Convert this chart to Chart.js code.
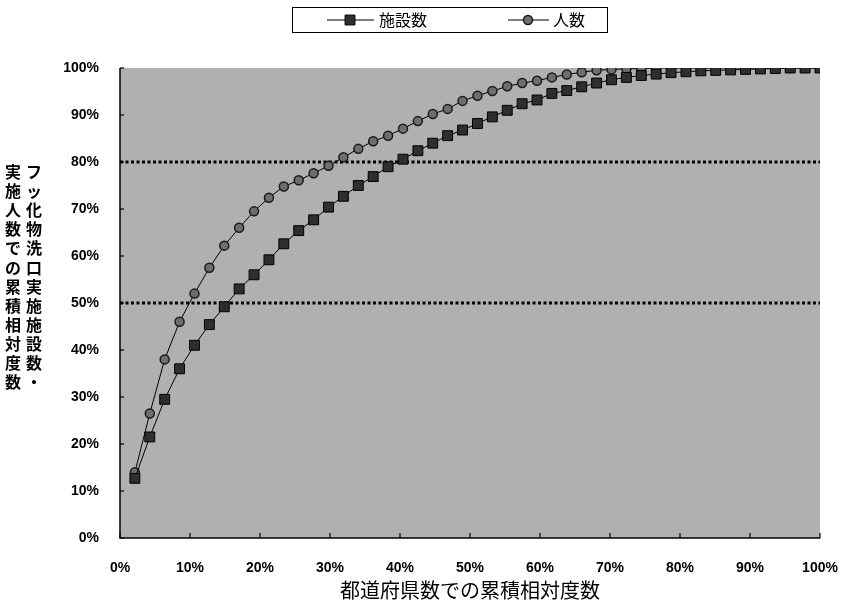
<!DOCTYPE html>
<html><head><meta charset="utf-8">
<script src="https://cdn.jsdelivr.net/npm/chart.js@4.4.0/dist/chart.umd.min.js"></script>
<style>html,body{margin:0;padding:0;background:#fff;}</style>
</head><body>
<canvas id="c" width="843" height="607"></canvas>
<script>
// ---- data ----
const prefectureCount = 47;
const prefIndex = [1,2,3,4,5,6,7,8,9,10,11,12,13,14,15,16,17,18,19,20,21,22,23,24,25,26,27,28,29,30,31,32,33,34,35,36,37,38,39,40,41,42,43,44,45,46,47];
const facilityPct = [12.7,21.5,29.5,36.0,41.0,45.4,49.2,53.0,56.0,59.2,62.6,65.4,67.7,70.4,72.7,75.0,76.9,79.0,80.6,82.4,84.0,85.6,86.8,88.2,89.6,91.0,92.4,93.2,94.6,95.2,96.0,96.8,97.5,98.0,98.4,98.7,99.0,99.2,99.4,99.5,99.6,99.7,99.8,99.9,100,100,100];
const peoplePct = [14.0,26.5,38.0,46.0,52.0,57.5,62.2,66.0,69.5,72.4,74.8,76.1,77.6,79.2,81.0,82.8,84.4,85.6,87.1,88.7,90.2,91.3,93.0,94.1,95.1,96.1,96.8,97.3,98.0,98.6,99.1,99.5,99.7,99.8,99.9,100,100,100,100,100,100,100,100,100,100,100,100];
const tickValues = [0,10,20,30,40,50,60,70,80,90,100];
const refLines = [50, 80];
const seriesNames = ['施設数', '人数'];
const xTitle = '都道府県数での累積相対度数';
const yTitleRight = 'フッ化物洗口実施施設数・';
const yTitleLeft = '実施人数での累積相対度数';

const toPoints = vals => prefIndex.map((p, i) => ({x: p / prefectureCount * 100, y: vals[i]}));
const tickFont = {family: 'Liberation Sans', weight: 'bold', size: 14};
const cjk = '"Noto Sans CJK JP", "Noto Sans CJK SC", sans-serif';

const framePlugin = {
  id: 'frame',
  beforeDatasetsDraw(chart) {
    const {ctx, chartArea: a, scales: {x, y}} = chart;
    ctx.save();
    ctx.fillStyle = '#b0b0b0';
    ctx.fillRect(a.left, a.top, a.right - a.left, a.bottom - a.top);
    ctx.strokeStyle = '#000';
    ctx.lineWidth = 3;
    ctx.setLineDash([3, 2.5]);
    refLines.forEach(v => {
      const py = y.getPixelForValue(v);
      ctx.beginPath(); ctx.moveTo(a.left, py); ctx.lineTo(a.right, py); ctx.stroke();
    });
    ctx.setLineDash([]);
    ctx.lineWidth = 1.5;
    ctx.beginPath();
    ctx.moveTo(a.left, a.top); ctx.lineTo(a.left, a.bottom); ctx.lineTo(a.right, a.bottom);
    ctx.stroke();
    ctx.lineWidth = 1.2;
    tickValues.forEach(v => {
      const py = y.getPixelForValue(v);
      ctx.beginPath(); ctx.moveTo(a.left, py); ctx.lineTo(a.left + 4, py); ctx.stroke();
      const px = x.getPixelForValue(v);
      ctx.beginPath(); ctx.moveTo(px, a.bottom); ctx.lineTo(px, a.bottom - 5); ctx.stroke();
    });
    ctx.restore();
  },
  afterDraw(chart) {
    const {ctx} = chart;
    const ds = chart.data.datasets;
    ctx.save();
    // legend box
    ctx.strokeStyle = '#000';
    ctx.lineWidth = 1;
    ctx.strokeRect(292.5, 7.5, 315, 25);
    const items = [
      {x1: 327, x2: 374, mx: 350, tx: 379},
      {x1: 508, x2: 549, mx: 528, tx: 553}
    ];
    items.forEach((it, i) => {
      const d = ds[i];
      ctx.strokeStyle = d.borderColor; ctx.lineWidth = 1;
      ctx.beginPath(); ctx.moveTo(it.x1, 20); ctx.lineTo(it.x2, 20); ctx.stroke();
      ctx.fillStyle = d.pointBackgroundColor; ctx.strokeStyle = d.pointBorderColor; ctx.lineWidth = d.pointBorderWidth;
      ctx.beginPath();
      if (d.pointStyle === 'rect') {
        const s = Math.SQRT1_2 * d.pointRadius;
        ctx.rect(it.mx - s, 20 - s, 2 * s, 2 * s);
      } else {
        ctx.arc(it.mx, 20, d.pointRadius, 0, Math.PI * 2);
      }
      ctx.fill(); ctx.stroke();
      ctx.fillStyle = '#000';
      ctx.font = '16px ' + cjk;
      ctx.textAlign = 'left'; ctx.textBaseline = 'middle';
      ctx.fillText(d.label, it.tx, 20);
    });
    // vertical y title (right column first)
    ctx.font = 'bold 16px ' + cjk;
    ctx.textAlign = 'center'; ctx.textBaseline = 'middle';
    ctx.fillStyle = '#000';
    [...yTitleRight].forEach((ch, i) => ctx.fillText(ch, 34, 172 + i * 19.1));
    [...yTitleLeft].forEach((ch, i) => ctx.fillText(ch, 13, 172 + i * 19.1));
    ctx.restore();
  }
};

new Chart(document.getElementById('c'), {
  type: 'line',
  data: {
    datasets: [
      {
        label: seriesNames[0], data: toPoints(facilityPct),
        borderColor: '#000', borderWidth: 1,
        pointStyle: 'rect', pointRadius: 7, pointBorderWidth: 1,
        pointBackgroundColor: '#2e2e2e', pointBorderColor: '#000', tension: 0
      },
      {
        label: seriesNames[1], data: toPoints(peoplePct),
        borderColor: '#000', borderWidth: 1,
        pointStyle: 'circle', pointRadius: 4.5, pointBorderWidth: 1.5,
        pointBackgroundColor: '#6e6e6e', pointBorderColor: '#1a1a1a', tension: 0
      }
    ]
  },
  options: {
    responsive: false, animation: false, devicePixelRatio: 1,
    layout: {padding: {top: 68, right: 23, left: 0, bottom: 0}},
    plugins: {legend: {display: false}, tooltip: {enabled: false}},
    scales: {
      x: {
        type: 'linear', min: 0, max: 100,
        afterBuildTicks: s => { s.ticks = tickValues.map(v => ({value: v})); },
        afterFit: s => { s.height = 69; s.paddingLeft = 0; s.paddingRight = 0; },
        grid: {display: false}, border: {display: false},
        ticks: {callback: v => v + '%', font: tickFont, color: '#000', padding: 14, maxRotation: 0, autoSkip: false},
        title: {display: true, text: xTitle, color: '#000', font: {family: cjk, size: 20}, padding: {top: 0, bottom: 5}}
      },
      y: {
        type: 'linear', min: 0, max: 100,
        afterBuildTicks: s => { s.ticks = tickValues.map(v => ({value: v})); },
        afterFit: s => { s.width = 120; s.paddingTop = 0; s.paddingBottom = 0; },
        grid: {display: false}, border: {display: false},
        ticks: {callback: v => v + '%', font: tickFont, color: '#000', padding: 13}
      }
    }
  },
  plugins: [framePlugin]
});
</script>
</body></html>
